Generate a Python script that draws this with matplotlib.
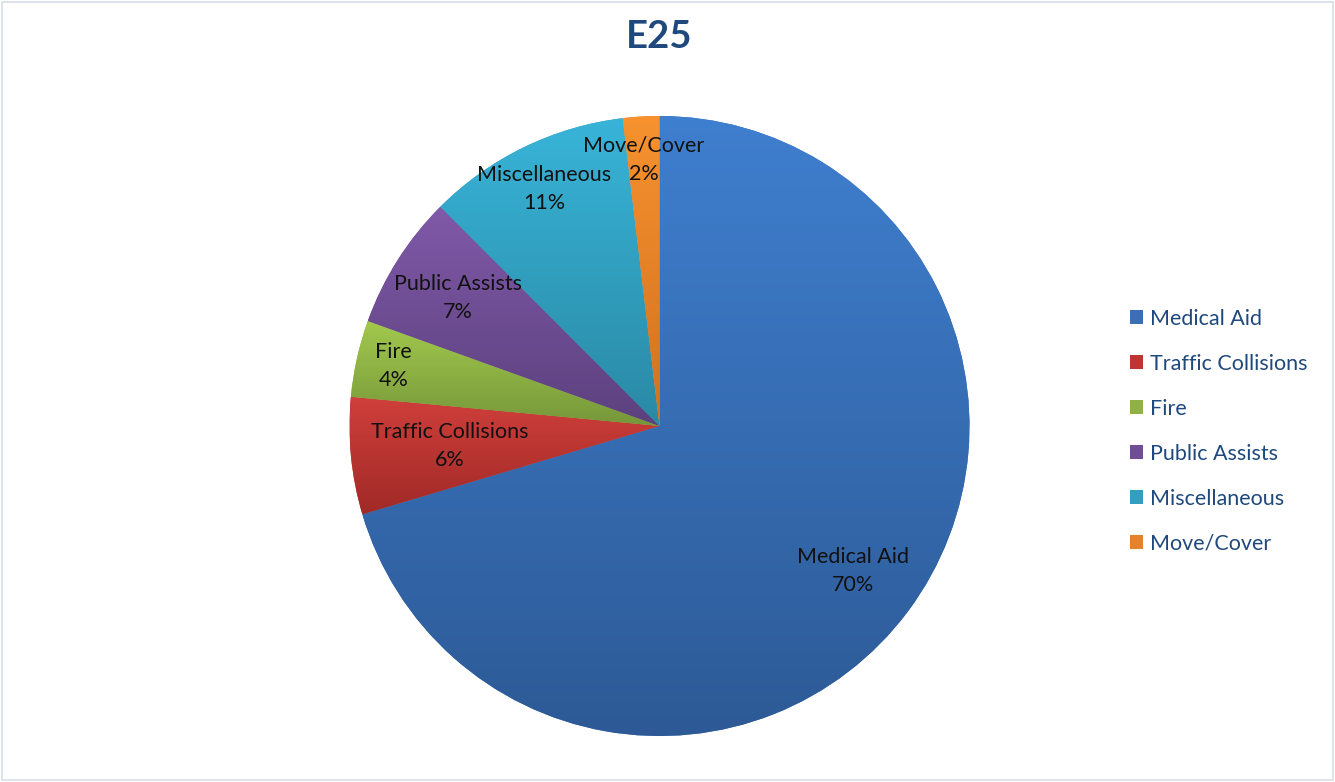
import numpy as np
import matplotlib
matplotlib.use('Agg')
import matplotlib.pyplot as plt
from matplotlib.colors import LinearSegmentedColormap
from matplotlib.patches import Rectangle

plt.rcParams['font.family'] = ['Lato', 'DejaVu Sans']

categories = ['Medical Aid', 'Traffic Collisions', 'Fire', 'Public Assists', 'Miscellaneous', 'Move/Cover']
shares = [70.4, 6.1, 4.0, 7.0, 10.6, 1.9]

# light top / dark bottom of each slice's gradient
tops = ['#3F7FCF', '#D03F3B', '#A3C94D', '#8059A8', '#38B4D8', '#F7922F']
bottoms = ['#2D5A96', '#A02A27', '#76973A', '#5C417E', '#2A89A5', '#D2711F']
mids = ['#3A6EB6', '#BE3532', '#8FB146', '#6E4E95', '#329FC0', '#E8822A']
label_r = [0.78, 0.68, 0.88, 0.77, 0.85, 0.86]

W, H = 1335, 782
fig = plt.figure(figsize=(W / 100, H / 100), dpi=100)
cx, cy, R = 659.5, 426, 310
ax = fig.add_axes([(cx - R) / W, (H - cy - R) / H, 2 * R / W, 2 * R / H])

wedges, _ = ax.pie(shares, colors=mids, startangle=90, counterclock=False,
                   radius=1, wedgeprops=dict(linewidth=0))

grad = np.linspace(1, 0, 256).reshape(-1, 1)
for w, t, b in zip(wedges, tops, bottoms):
    ext = w.get_path().get_extents()
    cm = LinearSegmentedColormap.from_list('g', [b, t])
    im = ax.imshow(grad, cmap=cm, extent=[ext.x0, ext.x1, ext.y0, ext.y1],
                   aspect='auto', origin='upper', zorder=2)
    im.set_clip_path(w)

for w, name, v, r in zip(wedges, categories, shares, label_r):
    ang = np.deg2rad((w.theta1 + w.theta2) / 2)
    ax.text(r * np.cos(ang), r * np.sin(ang), f'{name}\n{round(v)}%', ha='center', va='center',
            fontsize=15.5, color='#111111', linespacing=1.5, zorder=5)

ax.set_xlim(-1, 1)
ax.set_ylim(-1, 1)
ax.set_aspect('equal')
ax.axis('off')

fig.text(cx / W, 1 - 37 / H, 'E25', ha='center', va='center', fontsize=27.5,
         fontweight='bold', color='#1F497D')

leg = fig.legend(wedges, categories, loc='upper left', bbox_to_anchor=(1130 / W, 1 - 309 / H),
                 frameon=False, fontsize=15.5, labelspacing=1.16, handlelength=0.62,
                 handleheight=0.62, handletextpad=0.33, borderpad=0, borderaxespad=0)
for txt in leg.get_texts():
    txt.set_color('#1F497D')

fig.patches.append(Rectangle((2 / W, 2 / H), 1 - 4 / W, 1 - 4 / H, transform=fig.transFigure,
                             fill=False, edgecolor='#D6DEE8', linewidth=1.2))

fig.savefig('out.png', dpi=100)
